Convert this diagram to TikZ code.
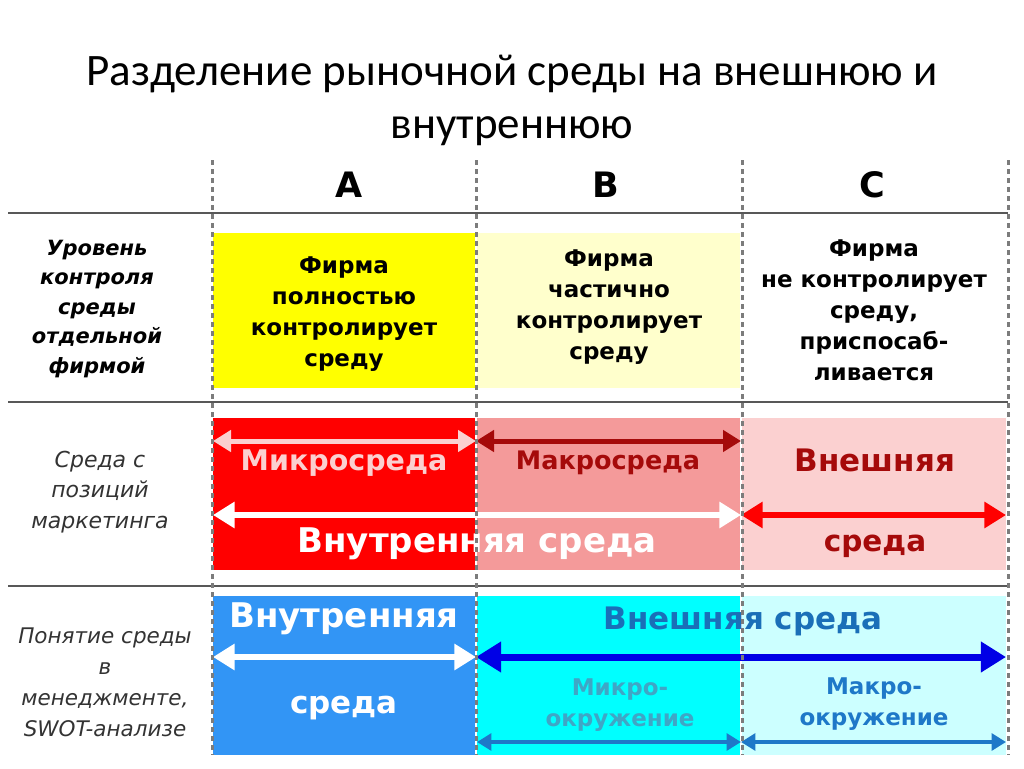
\documentclass[tikz,border=0pt]{standalone}
\usepackage{fontspec}
\setmainfont{Carlito}
\newfontfamily\tabfont{DejaVu Sans}
\usetikzlibrary{arrows.meta}
\definecolor{fullyel}{HTML}{FFFF00}
\definecolor{paleyel}{HTML}{FFFFCC}
\definecolor{fullred}{HTML}{FF0000}
\definecolor{midpink}{HTML}{F49A9A}
\definecolor{lightpink}{HTML}{FBD0D0}
\definecolor{darkred}{HTML}{A50A0A}
\definecolor{skyblue}{HTML}{3295F5}
\definecolor{fullcyan}{HTML}{00FFFF}
\definecolor{lightcyan}{HTML}{CCFFFF}
\definecolor{steelblue}{HTML}{1A6FB8}
\definecolor{tealtext}{HTML}{3FA6C6}
\definecolor{midblue}{HTML}{1E78C8}
\definecolor{deepblue}{HTML}{0000E6}
\definecolor{gridgray}{HTML}{585858}
\definecolor{dashgray}{HTML}{7C7C7C}
\begin{document}
\begin{tikzpicture}[x=1pt,y=-1pt,
  box/.style={inner sep=0pt, anchor=north west, minimum width=263pt},
  cell/.style={align=center, font=\tabfont\bfseries\fontsize{23}{31}\selectfont},
  side/.style={align=center, text=black!80, font=\tabfont\itshape\fontsize{22}{30.5}\selectfont},
  big/.style={font=\tabfont\bfseries\fontsize{31}{36}\selectfont},
  head/.style={font=\tabfont\bfseries\fontsize{35}{40}\selectfont},
  vline/.style={dashgray, line width=3pt, dash pattern=on 5pt off 4pt},
  hline/.style={gridgray, line width=2.5pt},
  dbl/.style={line width=#1pt, {Triangle[length=#1*3.6pt,width=#1*4.2pt]}-{Triangle[length=#1*3.6pt,width=#1*4.2pt]}},
]
  \useasboundingbox (0,0) rectangle (1024,768);
  % title
  \node[font=\fontsize{45}{53}\selectfont, align=center] (title) at (512,100)
    {Разделение рыночной среды на внешнюю и\\внутреннюю};

  % column heads
  \node[head] (colA) at (349,185) {A};
  \node[head] (colB) at (606,185) {B};
  \node[head] (colC) at (872,185) {C};

  % row 1: control
  \node[box, fill=fullyel, minimum width=262pt, minimum height=155pt] (ctrlA) at (213,233) {};
  \node[box, fill=paleyel, minimum height=155pt] (ctrlB) at (477,233) {};
  \node[cell] (ctrlAtext) at (344,314) {Фирма\\полностью\\контролирует\\среду};
  \node[cell] (ctrlBtext) at (609,307) {Фирма\\частично\\контролирует\\среду};
  \node[cell] (ctrlCtext) at (874,310) {Фирма\\не контролирует\\среду,\\приспосаб-\\ливается};
  \node[side, text=black, font=\tabfont\bfseries\itshape\fontsize{21}{29.5}\selectfont] (ctrlside) at (97,309)
    {Уровень\\контроля\\среды\\отдельной\\фирмой};

  % row 2: marketing
  \node[box, fill=fullred, minimum width=262pt, minimum height=152pt] (mktA) at (213,418) {};
  \node[box, fill=midpink, minimum height=152pt] (mktB) at (477,418) {};
  \node[box, fill=lightpink, minimum width=264pt, minimum height=152pt] (mktC) at (742,418) {};
  \node[big, text=lightpink, font=\tabfont\bfseries\fontsize{28.5}{32}\selectfont] (micro) at (344,463) {Микросреда};
  \node[big, text=darkred, font=\tabfont\bfseries\fontsize{25.5}{30}\selectfont] (macro) at (608,463) {Макросреда};
  \node[big, text=darkred] (extA) at (875,460) {Внешняя};
  \node[big, text=darkred, font=\tabfont\bfseries\fontsize{29.5}{32}\selectfont] (extB) at (875,546) {среда};
  \node[big, text=white, font=\tabfont\bfseries\fontsize{34}{38}\selectfont] (intern) at (477,544) {Внутренняя среда};
  \node[side] (mktside) at (100,492) {Среда с\\позиций\\маркетинга};
  \coordinate (m1) at (213,441);
  \coordinate (m2) at (476,441);
  \coordinate (m3) at (741,441);
  \coordinate (n1) at (213,515);
  \coordinate (n2) at (741,515);
  \coordinate (n3) at (1006,515);
  \draw[dbl=5, color=lightpink] (m1) -- (m2);
  \draw[dbl=5, color=darkred] (m2) -- (m3);
  \draw[dbl=6, color=white] (n1) -- (n2);
  \draw[dbl=6, color=fullred] (n2) -- (n3);

  % row 3: management
  \node[box, fill=skyblue, minimum width=262pt, minimum height=159pt] (mgmA) at (213,596) {};
  \node[box, fill=fullcyan, minimum height=159pt] (mgmB) at (477,596) {};
  \node[box, fill=lightcyan, minimum width=264pt, minimum height=159pt] (mgmC) at (742,596) {};
  \node[big, text=white, font=\tabfont\bfseries\fontsize{34}{38}\selectfont] (innerA) at (344,619) {Внутренняя};
  \node[big, text=white] (innerB) at (344,708) {среда};
  \node[big, text=steelblue] (outer) at (743,621) {Внешняя среда};
  \node[cell, text=tealtext] (microenv) at (620,705) {Микро-\\окружение};
  \node[cell, text=midblue] (macroenv) at (874,704) {Макро-\\окружение};
  \node[side, text=black!80, font=\tabfont\itshape\fontsize{21.5}{31}\selectfont] (mgmside) at (105,682) {Понятие среды\\в\\менеджменте,\\SWOT-анализе};
  \coordinate (p1) at (213,657);
  \coordinate (p2) at (476,657);
  \coordinate (p3) at (1006,657);
  \coordinate (q1) at (477,742);
  \coordinate (q2) at (741,742);
  \coordinate (q3) at (1006,742);
  \draw[dbl=6, color=white] (p1) -- (p2);
  \draw[dbl=7, color=deepblue] (p2) -- (p3);
  \draw[dbl=4, color=midblue] (q1) -- (q2);
  \draw[dbl=4, color=midblue] (q2) -- (q3);

  % grid
  \draw[hline] (8,213) -- (1008,213);
  \draw[hline] (8,402) -- (1008,402);
  \draw[hline] (8,586) -- (1008,586);
  \foreach \x in {212,476,742,1008}
    \draw[vline] (\x,160) -- (\x,755);
\end{tikzpicture}
\end{document}
